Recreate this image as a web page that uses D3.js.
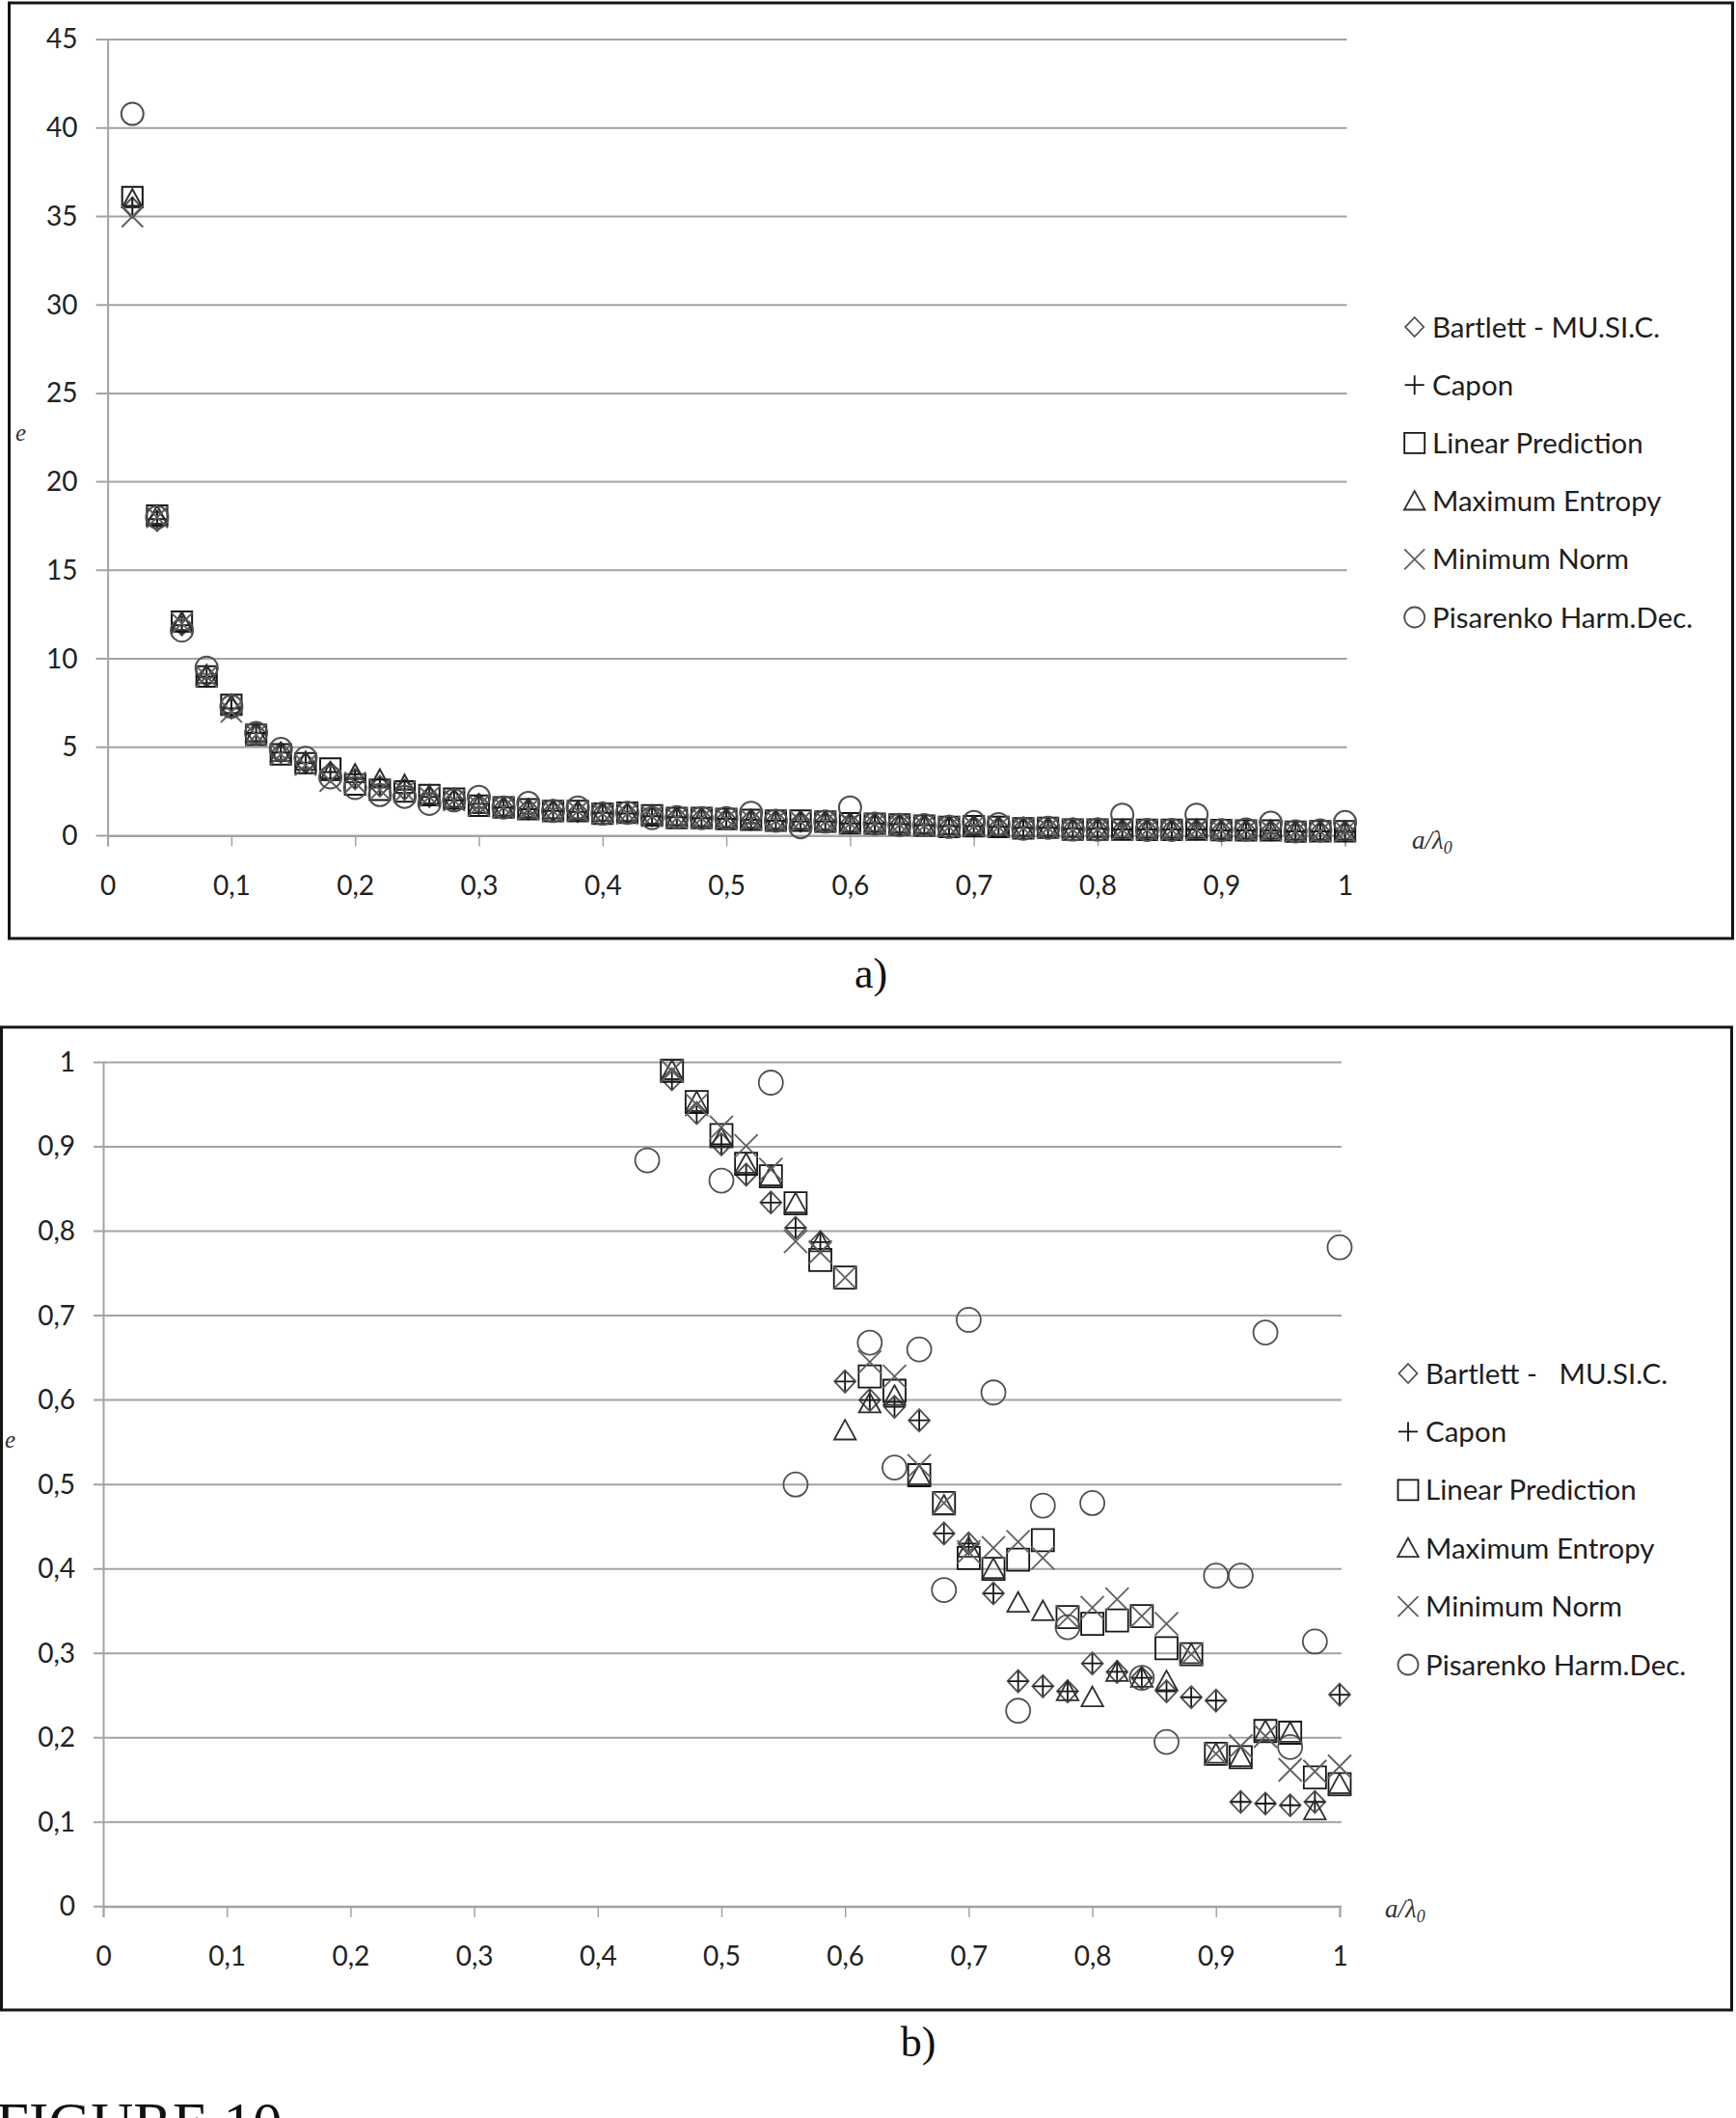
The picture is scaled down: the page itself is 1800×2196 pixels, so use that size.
<!DOCTYPE html>
<html><head><meta charset="utf-8">
<script src="https://cdn.jsdelivr.net/npm/d3@7"></script>
<style>
html,body{margin:0;padding:0;background:#fff;}
svg{display:block;}
text{white-space:pre;}
</style></head>
<body>
<svg id="chart" width="1800" height="2196"></svg>
<script>
// ---------- DATA ----------
const seriesNamesA = ["Bartlett - MU.SI.C.", "Capon", "Linear Prediction", "Maximum Entropy", "Minimum Norm", "Pisarenko Harm.Dec."];
const seriesNamesB = ["Bartlett -   MU.SI.C.", "Capon", "Linear Prediction", "Maximum Entropy", "Minimum Norm", "Pisarenko Harm.Dec."];

const xTickValues = [0, 0.1, 0.2, 0.3, 0.4, 0.5, 0.6, 0.7, 0.8, 0.9, 1];
const xTickLabels = ["0", "0,1", "0,2", "0,3", "0,4", "0,5", "0,6", "0,7", "0,8", "0,9", "1"];
const yTickValuesA = [0, 5, 10, 15, 20, 25, 30, 35, 40, 45];
const yTickLabelsA = ["0", "5", "10", "15", "20", "25", "30", "35", "40", "45"];
const yTickValuesB = [0, 0.1, 0.2, 0.3, 0.4, 0.5, 0.6, 0.7, 0.8, 0.9, 1];
const yTickLabelsB = ["0", "0,1", "0,2", "0,3", "0,4", "0,5", "0,6", "0,7", "0,8", "0,9", "1"];

// panel a) : a/lambda0 = 0.02 ... 1.00
const xA = [0.02,0.04,0.06,0.08,0.10,0.12,0.14,0.16,0.18,0.20,0.22,0.24,0.26,0.28,0.30,0.32,0.34,0.36,0.38,0.40,
            0.42,0.44,0.46,0.48,0.50,0.52,0.54,0.56,0.58,0.60,0.62,0.64,0.66,0.68,0.70,0.72,0.74,0.76,0.78,0.80,
            0.82,0.84,0.86,0.88,0.90,0.92,0.94,0.96,0.98,1.00];
const bartlettA = [35.5,17.8,11.9,9.0,7.2,5.8,4.7,4.1,3.6,3.2,2.8,2.6,2.2,2.0,1.8,1.6,1.5,1.4,1.35,1.3,
                   1.25,1.1,1.05,1.0,0.95,0.9,0.85,0.8,0.8,0.7,0.7,0.65,0.6,0.55,0.55,0.5,0.45,0.45,0.4,0.4,
                   0.35,0.35,0.35,0.35,0.3,0.3,0.3,0.25,0.25,0.25];
const caponA = [35.6,17.9,11.9,9.0,7.2,5.8,4.7,4.1,3.6,3.2,2.8,2.6,2.2,2.0,1.8,1.6,1.5,1.4,1.35,1.3,
                1.25,1.1,1.05,1.0,0.95,0.9,0.85,0.8,0.8,0.7,0.7,0.65,0.6,0.55,0.55,0.5,0.45,0.45,0.4,0.4,
                0.35,0.35,0.35,0.35,0.3,0.3,0.3,0.25,0.25,0.25];
const linPredA = [36.1,18.1,12.1,9.0,7.4,5.7,4.6,4.1,3.8,2.9,2.6,2.5,2.3,2.1,1.7,1.6,1.5,1.4,1.4,1.25,
                  1.3,1.15,1.0,1.0,0.95,0.9,0.85,0.85,0.8,0.7,0.68,0.63,0.57,0.5,0.54,0.5,0.42,0.45,0.35,0.35,
                  0.35,0.33,0.33,0.35,0.32,0.3,0.3,0.23,0.25,0.25];
const maxEntA = [36.0,18.1,12.1,9.1,7.4,5.8,4.7,4.2,3.6,3.5,3.2,2.9,2.3,2.1,1.75,1.6,1.5,1.45,1.4,1.3,
                 1.3,1.15,1.05,1.0,0.95,0.9,0.85,0.85,0.8,0.7,0.7,0.65,0.6,0.55,0.55,0.5,0.45,0.45,0.4,0.4,
                 0.35,0.35,0.35,0.35,0.3,0.3,0.3,0.25,0.25,0.25];
const minNormA = [35.0,18.0,12.0,9.0,7.0,5.7,4.6,4.0,3.1,3.0,2.6,2.5,2.2,2.0,1.7,1.6,1.5,1.4,1.4,1.25,
                  1.25,1.1,1.0,1.0,0.95,0.9,0.85,0.8,0.8,0.7,0.68,0.63,0.57,0.5,0.54,0.5,0.42,0.45,0.35,0.35,
                  0.35,0.33,0.33,0.35,0.32,0.3,0.3,0.23,0.25,0.25];
const pisarenkoA = [40.8,18.0,11.6,9.5,7.3,5.8,4.9,4.4,3.3,2.7,2.3,2.2,1.8,2.0,2.2,1.6,1.85,1.4,1.6,1.25,
                    1.3,1.0,1.05,1.0,1.0,1.3,0.85,0.48,0.8,1.6,0.68,0.6,0.6,0.5,0.77,0.65,0.4,0.45,0.35,0.35,
                    1.19,0.33,0.33,1.19,0.32,0.35,0.73,0.25,0.3,0.77];

// panel b) : a/lambda0 = 0.44 ... 1.00 (null = no visible point)
const xB = [0.44,0.46,0.48,0.50,0.52,0.54,0.56,0.58,0.60,0.62,0.64,0.66,0.68,0.70,0.72,0.74,0.76,0.78,0.80,0.82,
            0.84,0.86,0.88,0.90,0.92,0.94,0.96,0.98,1.00];
const bartlettB = [null,0.98,0.94,0.903,0.867,0.834,0.804,0.787,0.622,0.60,0.592,0.576,0.442,0.43,0.371,0.267,0.261,0.255,0.288,0.278,
                   0.271,0.255,0.248,0.244,0.124,0.122,0.120,0.124,0.251];
const caponB = [null,0.98,0.94,0.903,0.867,0.834,0.804,0.787,0.622,0.60,0.592,0.576,0.442,0.43,0.371,0.267,0.261,0.255,0.288,0.278,
                0.271,0.255,0.248,0.244,0.124,0.122,0.120,0.124,0.251];
const linPredB = [null,0.99,0.953,0.914,0.88,0.865,0.833,0.766,0.745,0.628,0.611,0.511,0.478,0.413,0.40,0.411,0.434,0.343,0.335,0.339,
                  0.344,0.306,0.299,0.181,0.177,0.208,0.206,0.153,0.145];
const maxEntB = [null,0.99,0.953,0.91,0.88,0.865,0.833,0.787,0.564,0.596,0.605,0.511,0.475,0.425,0.40,0.36,0.35,0.255,0.248,0.278,
                 0.271,0.267,0.299,0.181,0.177,0.208,0.206,0.114,0.145];
const minNormB = [null,0.99,0.95,0.923,0.901,0.873,0.788,0.775,0.745,0.645,0.628,0.522,0.478,0.42,0.425,0.432,0.413,0.343,0.354,0.364,
                  0.344,0.335,0.299,0.181,0.19,0.202,0.162,0.16,0.166];
const pisarenkoB = [0.884,null,null,0.86,null,0.976,0.50,null,null,0.668,0.52,0.66,0.375,0.695,0.609,0.232,0.475,0.331,0.478,null,
                    0.271,0.195,null,0.392,0.392,0.68,0.189,0.314,0.781];

// ---------- MARKERS ----------
const shapes = {
  diamond: {draw(c, r){ c.moveTo(0,-r); c.lineTo(r*0.95,0); c.lineTo(0,r); c.lineTo(-r*0.95,0); c.closePath(); }},
  plus:    {draw(c, r){ c.moveTo(-r,0); c.lineTo(r,0); c.moveTo(0,-r); c.lineTo(0,r); }},
  square:  {draw(c, r){ c.moveTo(-r,-r); c.lineTo(r,-r); c.lineTo(r,r); c.lineTo(-r,r); c.closePath(); }},
  triangle:{draw(c, r){ c.moveTo(0,-r); c.lineTo(r*1.02,r*0.85); c.lineTo(-r*1.02,r*0.85); c.closePath(); }},
  times:   {draw(c, r){ c.moveTo(-r,-r); c.lineTo(r,r); c.moveTo(r,-r); c.lineTo(-r,r); }},
  circle:  {draw(c, r){ c.moveTo(r,0); c.arc(0,0,r,0,2*Math.PI); c.closePath(); }}
};
const styles = [
  {shape:"diamond",  color:"#505050", size:11.5, legend:10},
  {shape:"plus",     color:"#151515", size:10, legend:10},
  {shape:"square",   color:"#151515", size:11.5, legend:10.5},
  {shape:"triangle", color:"#2e2e2e", size:11, legend:10.5},
  {shape:"times",    color:"#606060", size:12, legend:10.5},
  {shape:"circle",   color:"#505050", size:12.5, legend:10.5}
];

const svg = d3.select("#chart");
const gridColor = "#a3a3a3";

function drawPanel(cfg){
  const g = svg.append("g");
  // frame
  g.append("rect").attr("x", cfg.frame[0]).attr("y", cfg.frame[1])
    .attr("width", cfg.frame[2]).attr("height", cfg.frame[3])
    .attr("fill", "none").attr("stroke", "#151515").attr("stroke-width", 3);

  const x = d3.scaleLinear().domain([0, 1]).range(cfg.xRange);
  const y = d3.scaleLinear().domain(cfg.yDomain).range(cfg.yRange);

  // gridlines
  g.append("g").selectAll("line").data(cfg.yTicks).join("line")
    .attr("x1", cfg.xRange[0] - cfg.tickLen).attr("x2", cfg.xRange[1] + 2)
    .attr("y1", d => y(d)).attr("y2", d => y(d))
    .attr("stroke", gridColor).attr("stroke-width", 2);

  // y axis
  const ya = g.append("g").attr("transform", `translate(${cfg.xRange[0]},0)`)
    .call(d3.axisLeft(y).tickValues(cfg.yTicks).tickSize(0).tickPadding(cfg.yPad)
      .tickFormat((d, i) => cfg.yLabels[i]));
  ya.select(".domain").attr("stroke", gridColor).attr("stroke-width", 2);
  ya.selectAll("text").attr("font-family", "Lato, 'Open Sans', sans-serif")
    .attr("font-size", cfg.tickFont).attr("fill", "#222").attr("dy", "0.32em");

  // x axis
  const xa = g.append("g").attr("transform", `translate(0,${cfg.yRange[0]})`)
    .call(d3.axisBottom(x).tickValues(xTickValues).tickSize(11).tickPadding(cfg.xPad)
      .tickFormat((d, i) => xTickLabels[i]));
  xa.select(".domain").attr("stroke", gridColor).attr("stroke-width", 2);
  xa.selectAll(".tick line").attr("stroke", gridColor).attr("stroke-width", 1.5);
  xa.selectAll("text").attr("font-family", "Lato, 'Open Sans', sans-serif")
    .attr("font-size", cfg.tickFont).attr("fill", "#222");

  // series markers
  cfg.series.forEach((vals, si) => {
    const st = styles[si];
    const sym = d3.symbol().type(shapes[st.shape]).size(st.size * cfg.markScale);
    const pts = cfg.xs.map((xv, i) => ({x: xv, v: vals[i]})).filter(p => p.v !== null);
    g.append("g").selectAll("path").data(pts).join("path")
      .attr("transform", p => `translate(${x(p.x)},${y(p.v)})`)
      .attr("d", sym).attr("fill", "none")
      .attr("stroke", st.color).attr("stroke-width", cfg.markStroke);
  });

  // legend
  const lg = g.append("g");
  cfg.names.forEach((nm, i) => {
    const st = styles[i];
    const cy = cfg.legY + i * cfg.legStep;
    lg.append("path").attr("transform", `translate(${cfg.legMarkX},${cy})`)
      .attr("d", d3.symbol().type(shapes[st.shape]).size(st.legend)())
      .attr("fill", "none").attr("stroke", st.color).attr("stroke-width", 1.8);
    lg.append("text").attr("x", cfg.legTextX).attr("y", cy + 10.5)
      .attr("font-family", "Lato, 'Open Sans', sans-serif").attr("font-size", 29.5)
      .attr("fill", "#1e1e1e").text(nm);
  });

  // axis titles
  g.append("text").attr("x", cfg.eLabel[0]).attr("y", cfg.eLabel[1])
    .attr("font-family", "'Liberation Serif', 'DejaVu Serif', serif").attr("font-style", "italic")
    .attr("font-size", 25).attr("fill", "#333").text("e");
  const t = g.append("text").attr("x", cfg.aLabel[0]).attr("y", cfg.aLabel[1])
    .attr("font-family", "'Liberation Serif', 'DejaVu Serif', serif").attr("font-style", "italic")
    .attr("font-size", 27).attr("fill", "#333");
  t.append("tspan").text("a/λ");
  t.append("tspan").attr("font-size", 18).attr("dy", 5).text("0");

  // caption
  svg.append("text").attr("x", cfg.caption[0]).attr("y", cfg.caption[1]).attr("text-anchor", "middle")
    .attr("font-family", "'Liberation Serif', 'Times New Roman', serif").attr("font-size", 44)
    .attr("fill", "#111").text(cfg.caption[2]);
}

drawPanel({
  frame: [9.5, 3, 1787, 970],
  xRange: [111.6, 1394.6], yDomain: [0, 45], yRange: [866.5, 41],
  yTicks: yTickValuesA, yLabels: yTickLabelsA, tickLen: 12, yPad: 31, xPad: 31, tickFont: 28,
  xs: xA, series: [bartlettA, caponA, linPredA, maxEntA, minNormA, pisarenkoA], markScale: 0.92, markStroke: 2,
  names: seriesNamesA, legMarkX: 1466.7, legTextX: 1485, legY: 339, legStep: 60.2,
  eLabel: [16, 457], aLabel: [1464, 880], caption: [903, 1024, "a)"]
});

drawPanel({
  frame: [1.5, 1065, 1794, 1019],
  xRange: [107, 1389], yDomain: [0, 1], yRange: [1976.8, 1101.5],
  yTicks: yTickValuesB, yLabels: yTickLabelsB, tickLen: 10, yPad: 29, xPad: 30, tickFont: 28,
  xs: xB, series: [bartlettB, caponB, linPredB, maxEntB, minNormB, pisarenkoB], markScale: 1, markStroke: 1.8,
  names: seriesNamesB, legMarkX: 1460, legTextX: 1478, legY: 1424, legStep: 60.4,
  eLabel: [5, 1501], aLabel: [1436, 1988], caption: [952, 2132, "b)"]
});

// figure label (cut off by the bottom edge, as in the source page)
svg.append("text").attr("x", -4).attr("y", 2222)
  .attr("font-family", "'Liberation Serif', 'Times New Roman', serif").attr("font-size", 61)
  .attr("fill", "#111").text("FIGURE 10");
</script>
</body></html>
